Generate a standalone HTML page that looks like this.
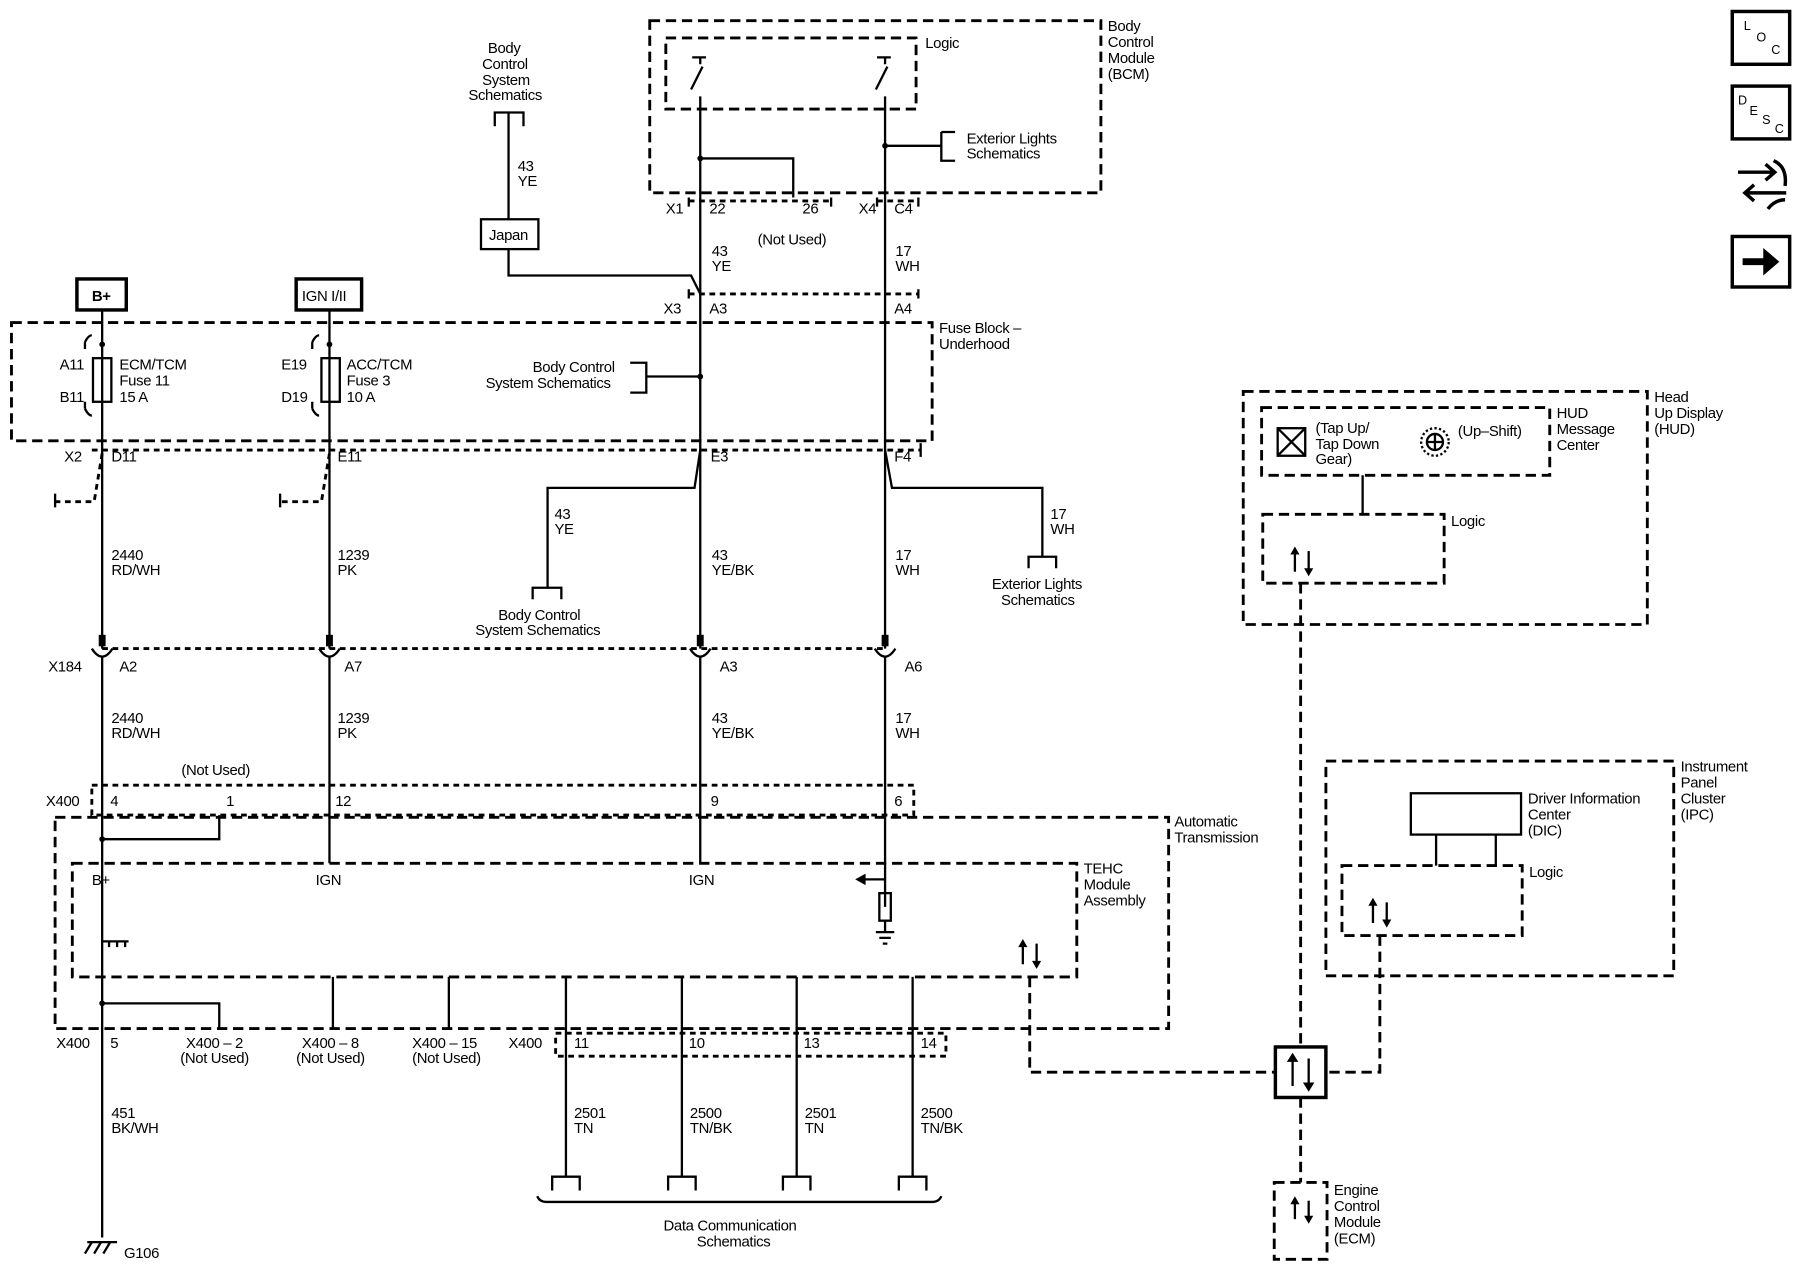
<!DOCTYPE html>
<html><head><meta charset="utf-8"><style>
html,body{margin:0;padding:0;background:#fff;}
svg{display:block}
text{font-family:"Liberation Sans",sans-serif;font-size:13px;fill:#000;letter-spacing:-0.3px}
.l{stroke:#000;stroke-width:2;fill:none}
.d{stroke:#000;stroke-width:2.5;fill:none;stroke-dasharray:9,5}
.d2{stroke:#000;stroke-width:2.5;fill:none;stroke-dasharray:5,4}
</style></head><body>
<svg width="1800" height="1280" viewBox="0 0 1568 1115" preserveAspectRatio="none" xmlns="http://www.w3.org/2000/svg">
<!-- BCM -->
<rect class="d" x="566" y="18" width="393" height="150"/>
<rect class="d" x="580" y="33" width="218" height="62"/>
<text x="965" y="27">Body</text><text x="965" y="41">Control</text><text x="965" y="55">Module</text><text x="965" y="69">(BCM)</text>
<text x="806" y="42">Logic</text>
<path class="l" d="M603,50 h12 M610,50 v6 M602,78 L612,58 M610,84 V565"/>
<path class="l" d="M764,50 h12 M771,50 v6 M763,78 L773,58 M771,84 V565"/>
<circle cx="610" cy="138" r="2.5"/><circle cx="771" cy="127" r="2.5"/>
<path class="l" d="M610,138 H691 V172 M771,127 H820 M820,115 h12 M820,115 V140 h12"/>
<text x="842" y="125">Exterior Lights</text><text x="842" y="138">Schematics</text>
<path class="d2" d="M600,175 H724 M764,175 H800"/>
<path class="l" d="M600,172 v8 M724,172 v8 M764,172 v8 M800,172 v8"/>
<text x="580" y="186">X1</text><text x="618" y="186">22</text><text x="699" y="186">26</text><text x="660" y="213">(Not Used)</text>
<text x="748" y="186">X4</text><text x="779" y="186">C4</text>
<text x="620" y="223">43</text><text x="620" y="236">YE</text><text x="780" y="223">17</text><text x="780" y="236">WH</text>
<!-- Body control top -->
<text x="425" y="46">Body</text><text x="420" y="60">Control</text><text x="420" y="74">System</text><text x="408" y="87">Schematics</text>
<path class="l" d="M431,110 V98 H456 V110 M443,98 V191"/>
<text x="451" y="149">43</text><text x="451" y="162">YE</text>
<rect class="l" x="419" y="191" width="50" height="26"/><text x="426" y="209">Japan</text>
<path class="l" d="M443,217 V240 H602 L610,256"/>
<path class="d2" d="M600,256 H800"/><path class="l" d="M600,252 v8 M800,252 v8"/>
<text x="578" y="273">X3</text><text x="618" y="273">A3</text><text x="779" y="273">A4</text>
<!-- Fuse block -->
<rect class="d" x="10" y="281" width="802" height="103"/>
<text x="818" y="290">Fuse Block –</text><text x="818" y="304">Underhood</text>
<rect class="l" x="67" y="243" width="43" height="27" style="stroke-width:3"/><text x="80" y="262" style="font-weight:bold">B+</text>
<rect class="l" x="258" y="243" width="57" height="27" style="stroke-width:3"/><text x="263" y="262">IGN I/II</text>
<path class="l" d="M89,270 V312 M89,350 V565 M287,270 V312 M287,350 V565"/>
<rect class="l" x="81" y="312" width="16" height="38"/><rect class="l" x="280" y="312" width="16" height="38"/>
<path class="l" d="M89,312 V350 M287,312 V350"/>
<circle cx="89" cy="300" r="2.5"/><circle cx="287" cy="300" r="2.5"/>
<path class="l" d="M74,298 q3,-6 6,-6 M74,298 v6 M272,298 q3,-6 6,-6 M272,298 v6 M74,356 q3,6 6,6 M74,356 v-6 M272,356 q3,6 6,6 M272,356 v-6"/>
<text x="52" y="322">A11</text><text x="52" y="350">B11</text>
<text x="104" y="322">ECM/TCM</text><text x="104" y="336">Fuse 11</text><text x="104" y="350">15 A</text>
<text x="245" y="322">E19</text><text x="245" y="350">D19</text>
<text x="302" y="322">ACC/TCM</text><text x="302" y="336">Fuse 3</text><text x="302" y="350">10 A</text>
<circle cx="610" cy="328" r="2.5"/>
<path class="l" d="M610,328 H563 V316 H549 M563,328 V342 H549"/>
<text x="464" y="324">Body Control</text><text x="423" y="338">System Schematics</text>
<!-- X2 -->
<path class="d2" d="M80,392 H802"/><path class="l" d="M802,386 v12"/>
<text x="56" y="402">X2</text><text x="97" y="402">D11</text><text x="294" y="402">E11</text><text x="619" y="402">E3</text><text x="779" y="402">F4</text>
<path class="d2" d="M89,395 L82,437 H48 M287,395 L280,437 H244"/>
<path class="l" d="M48,430 v12 M244,430 v12"/>
<path class="l" d="M610,392 L605,425 H477 V512 M771,392 L777,425 H908 V485"/>
<path class="l" d="M464,522 V512 H489 V522 M896,495 V485 H920 V495"/>
<text x="483" y="452">43</text><text x="483" y="465">YE</text>
<text x="915" y="452">17</text><text x="915" y="465">WH</text>
<text x="434" y="540">Body Control</text><text x="414" y="553">System Schematics</text>
<text x="864" y="513">Exterior Lights</text><text x="872" y="527">Schematics</text>
<text x="97" y="488">2440</text><text x="97" y="501">RD/WH</text><text x="294" y="488">1239</text><text x="294" y="501">PK</text>
<text x="620" y="488">43</text><text x="620" y="501">YE/BK</text><text x="780" y="488">17</text><text x="780" y="501">WH</text>
<!-- X184 -->
<path class="d2" d="M89,565 H771"/>
<path class="l" d="M80,565 q9,14 18,0 M278,565 q9,14 18,0 M601,565 q9,14 18,0 M762,565 q9,14 18,0"/>
<rect x="86" y="553" width="6" height="10"/><rect x="284" y="553" width="6" height="10"/><rect x="607" y="553" width="6" height="10"/><rect x="768" y="553" width="6" height="10"/>
<path class="l" d="M89,572 V1078 M287,572 V752 M610,572 V752 M771,572 V790"/>
<text x="42" y="585">X184</text><text x="104" y="585">A2</text><text x="300" y="585">A7</text><text x="627" y="585">A3</text><text x="788" y="585">A6</text>
<text x="97" y="630">2440</text><text x="97" y="643">RD/WH</text><text x="294" y="630">1239</text><text x="294" y="643">PK</text>
<text x="620" y="630">43</text><text x="620" y="643">YE/BK</text><text x="780" y="630">17</text><text x="780" y="643">WH</text>
<!-- X400 -->
<text x="158" y="675">(Not Used)</text>
<rect class="d2" x="80" y="684" width="716" height="26"/>
<text x="40" y="702">X400</text><text x="96" y="702">4</text><text x="197" y="702">1</text><text x="292" y="702">12</text><text x="619" y="702">9</text><text x="779" y="702">6</text>
<path class="l" d="M191,710 V731 H89"/><circle cx="89" cy="731" r="2.5"/>
<!-- Auto trans -->
<rect class="d" x="48" y="712" width="970" height="184"/>
<text x="1023" y="720">Automatic</text><text x="1023" y="734">Transmission</text>
<rect class="d" x="63" y="752" width="875" height="99"/>
<text x="944" y="761">TEHC</text><text x="944" y="775">Module</text><text x="944" y="789">Assembly</text>
<text x="80" y="771">B+</text><text x="275" y="771">IGN</text><text x="600" y="771">IGN</text>
<path class="l" d="M750,766 H771"/><path d="M745,766 l9,-5 v10z"/>
<rect class="l" x="766" y="778" width="10" height="24"/><path class="l" d="M771,802 V812 M763,812 h16 M766,817 h10 M769,822 h4"/>
<path class="l" d="M89,820 H112 M95,820 v5 M102,820 v5 M109,820 v5 M89,874 H191 V896"/>
<circle cx="89" cy="874" r="2.5"/>
<path class="l" d="M891,822 v18 M903,822 v18"/><path d="M891,818 l-4,7 h8z M903,844 l-4,-7 h8z"/>
<path class="l" d="M290,851 V896 M391,851 V896 M493,851 V1025 M594,851 V1025 M694,851 V1025 M795,851 V1025"/>
<text x="49" y="913">X400</text><text x="96" y="913">5</text>
<text x="162" y="913">X400 – 2</text><text x="157" y="926">(Not Used)</text>
<text x="263" y="913">X400 – 8</text><text x="258" y="926">(Not Used)</text>
<text x="359" y="913">X400 – 15</text><text x="359" y="926">(Not Used)</text>
<text x="443" y="913">X400</text><text x="500" y="913">11</text><text x="600" y="913">10</text><text x="700" y="913">13</text><text x="802" y="913">14</text>
<rect class="d2" x="484" y="900" width="340" height="20"/>
<text x="97" y="974">451</text><text x="97" y="987">BK/WH</text>
<text x="500" y="974">2501</text><text x="500" y="987">TN</text><text x="601" y="974">2500</text><text x="601" y="987">TN/BK</text>
<text x="701" y="974">2501</text><text x="701" y="987">TN</text><text x="802" y="974">2500</text><text x="802" y="987">TN/BK</text>
<path class="l" d="M481,1037 V1025 H505 V1037 M582,1037 V1025 H606 V1037 M682,1037 V1025 H706 V1037 M783,1037 V1025 H807 V1037"/>
<path class="l" d="M468,1042 q2,5 8,5 H812 q6,0 8,-5"/>
<text x="578" y="1072">Data Communication</text><text x="607" y="1086">Schematics</text>
<path class="l" d="M76,1082 H102 M80,1082 l-6,10 M88,1082 l-6,10 M96,1082 l-6,10"/>
<text x="108" y="1096">G106</text>
<!-- HUD -->
<rect class="d" x="1083" y="341" width="352" height="203"/>
<text x="1441" y="350">Head</text><text x="1441" y="364">Up Display</text><text x="1441" y="378">(HUD)</text>
<rect class="d" x="1099" y="355" width="251" height="59"/>
<text x="1356" y="364">HUD</text><text x="1356" y="378">Message</text><text x="1356" y="392">Center</text>
<rect class="l" x="1113" y="373" width="24" height="24"/><path class="l" d="M1113,373 L1137,397 M1137,373 L1113,397"/>
<text x="1146" y="377">(Tap Up/</text><text x="1146" y="391">Tap Down</text><text x="1146" y="404">Gear)</text>
<circle class="l" cx="1250" cy="385" r="12" style="stroke-dasharray:2,2"/><circle class="l" cx="1250" cy="385" r="7"/>
<path class="l" d="M1243,385 h14 M1250,378 v14"/>
<text x="1270" y="380">(Up–Shift)</text>
<path class="l" d="M1187,414 V448"/>
<rect class="d" x="1100" y="448" width="158" height="60"/><text x="1264" y="458">Logic</text>
<path class="l" d="M1128,480 v18 M1140,480 v18"/><path d="M1128,476 l-4,7 h8z M1140,502 l-4,-7 h8z"/>
<path class="d" d="M1133,508 V912 M1133,956 V1030"/>
<!-- IPC -->
<rect class="d" x="1155" y="663" width="303" height="187"/>
<text x="1464" y="672">Instrument</text><text x="1464" y="686">Panel</text><text x="1464" y="700">Cluster</text><text x="1464" y="714">(IPC)</text>
<rect class="l" x="1229" y="691" width="96" height="36"/>
<text x="1331" y="700">Driver Information</text><text x="1331" y="714">Center</text><text x="1331" y="728">(DIC)</text>
<path class="l" d="M1251,727 V754 M1303,727 V754"/>
<rect class="d" x="1169" y="754" width="157" height="61"/><text x="1332" y="764">Logic</text>
<path class="l" d="M1196,786 v18 M1208,786 v18"/><path d="M1196,782 l-4,7 h8z M1208,808 l-4,-7 h8z"/>
<path class="d" d="M1202,815 V934 H1155 M897,851 V934 H1111"/>
<rect class="l" x="1111" y="912" width="44" height="44" style="stroke-width:3"/>
<path class="l" d="M1126,922 v24 M1140,922 v24"/><path d="M1126,917 l-5,8 h10z M1140,951 l-5,-8 h10z"/>
<rect class="d" x="1110" y="1030" width="46" height="67"/>
<path class="l" d="M1128,1046 v16 M1140,1046 v16"/><path d="M1128,1042 l-4,7 h8z M1140,1066 l-4,-7 h8z"/>
<text x="1162" y="1041">Engine</text><text x="1162" y="1055">Control</text><text x="1162" y="1069">Module</text><text x="1162" y="1083">(ECM)</text>
<!-- icons -->
<rect class="l" x="1509" y="10" width="50" height="46" style="stroke-width:3"/>
<text x="1519" y="26" style="font-size:11px">L</text><text x="1530" y="36" style="font-size:11px">O</text><text x="1543" y="47" style="font-size:11px">C</text>
<rect class="l" x="1509" y="75" width="50" height="46" style="stroke-width:3"/>
<text x="1514" y="91" style="font-size:11px">D</text><text x="1524" y="100" style="font-size:11px">E</text><text x="1535" y="108" style="font-size:11px">S</text><text x="1546" y="116" style="font-size:11px">C</text>
<path class="l" d="M1514,150 H1545 M1538,143 l8,7 -8,7 M1520,168 H1556 M1528,161 l-8,7 8,7 M1545,140 q12,5 10,22 M1540,182 q6,-8 15,-8" style="stroke-width:3"/>
<rect class="l" x="1509" y="206" width="50" height="44" style="stroke-width:3"/>
<path d="M1518,225 H1536 V216 L1550,228 L1536,240 V231 H1518Z"/>
</svg>
</body></html>
